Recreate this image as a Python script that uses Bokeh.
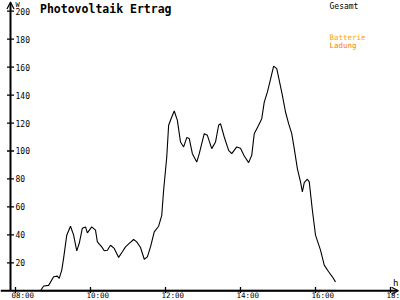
from math import pi
from bokeh.plotting import figure
from bokeh.models import Range1d, Arrow, OpenHead
from bokeh.core.properties import value
from bokeh.embed import file_html
from bokeh.resources import INLINE

# ---- data ----
times = ["08:40", "08:45", "08:53", "09:01", "09:07", "09:10", "09:14", "09:17", "09:22", "09:28",
         "09:33", "09:38", "09:42", "09:47", "09:52", "09:55", "10:02", "10:08", "10:11", "10:18",
         "10:22", "10:27", "10:32", "10:38", "10:45", "10:51", "10:56", "11:02", "11:09", "11:14",
         "11:20", "11:26", "11:31", "11:36", "11:42", "11:49", "11:54", "11:57", "12:02", "12:05",
         "12:10", "12:14", "12:19", "12:24", "12:29", "12:34", "12:38", "12:43", "12:50", "12:54",
         "13:02", "13:07", "13:14", "13:20", "13:25", "13:28", "13:34", "13:41", "13:46", "13:54",
         "14:00", "14:06", "14:13", "14:18", "14:22", "14:29", "14:34", "14:38", "14:43", "14:48",
         "14:53", "14:58", "15:02", "15:07", "15:12", "15:17", "15:22", "15:26", "15:31", "15:36",
         "15:39", "15:42", "15:47", "15:50", "15:55", "16:00", "16:08", "16:14", "16:21", "16:27",
         "16:32"]
gesamt = [0, 3.4, 3.9, 10, 10.5, 8.9, 14.8, 23.4, 39.8, 46.2,
          39.8, 28.6, 34, 44.8, 45.7, 41.4, 45.7, 43.4, 35, 31.4,
          28.6, 29, 32.6, 30.3, 23.9, 27.9, 31.4, 33.9, 36.7, 35,
          31, 22.6, 24.3, 31.4, 42.1, 46.2, 54, 71.9, 95.7, 118.4,
          124.3, 128.6, 121.9, 106.4, 102.9, 109.6, 108.9, 98.1, 92.1, 98.1,
          112.4, 111.2, 101.7, 106.4, 118.4, 119.6, 110, 100.5, 98.1, 102.9,
          101.9, 96.4, 91.7, 96.9, 112.4, 118.4, 123.1, 135, 142.1, 151.2,
          160.7, 158.9, 150.5, 139.8, 127.9, 119.6, 112.4, 101.7, 87.4, 77.9,
          70.7, 77.4, 79.8, 77.9, 57.6, 39.8, 29.1, 18.4, 13.6, 10,
          6.4]
ladung_times = ["08:40", "16:32"]
ladung = [0, 0]
y_ticks = [20, 40, 60, 80, 100, 120, 140, 160, 180, 200]
x_ticks = [8, 10, 12, 14, 16, 18]
x_tick_labels = ["08:00", "10:00", "12:00", "14:00", "16:00", "18:00"]


def hrs(t):
    hh, mm = t.split(":")
    return int(hh) + int(mm) / 60


X0, X1 = 7.6, 18.2667
Y0, Y1 = -6.93, 207.64
AXX = 7.8667  # y-axis position (07:52)
FONT = value("DejaVu Sans Mono")

p = figure(width=400, height=300, x_range=Range1d(X0, X1), y_range=Range1d(Y0, Y1),
           output_backend="svg", toolbar_location=None, min_border=0,
           x_axis_type=None, y_axis_type=None, outline_line_color=None,
           background_fill_color="white", border_fill_color="white")
p.xgrid.visible = False
p.ygrid.visible = False

# axes
p.add_layout(Arrow(end=OpenHead(size=7, line_width=1.2, line_color="black"),
                   x_start=X0, y_start=0, x_end=18.2133, y_end=0,
                   line_width=2, line_color="black"))
p.add_layout(Arrow(end=OpenHead(size=7, line_width=1.2, line_color="black"),
                   x_start=AXX, y_start=0, x_end=AXX, y_end=206.5,
                   line_width=2, line_color="black"))

# series
p.line([hrs(t) for t in ladung_times], ladung, line_color="#FF8000", line_width=2)
p.line([hrs(t) for t in times], gesamt, line_color="black", line_width=1.1)

# ticks
p.scatter(x=[AXX] * len(y_ticks), y=y_ticks, marker="dash", size=7,
          line_color="black", line_width=1.3)
p.scatter(x=x_ticks, y=[0.5] * len(x_ticks), marker="dash", angle=pi / 2, size=6,
          line_color="black", line_width=1.3)

# tick labels
p.text(x=[AXX] * len(y_ticks), y=y_ticks, text=[str(v) for v in y_ticks],
       x_offset=5, text_baseline="middle", text_align="left",
       text_font=FONT, text_font_size="8px", text_color="black")
p.text(x=x_ticks, y=[-6.6] * len(x_ticks), text=x_tick_labels,
       x_offset=-4, text_baseline="bottom", text_align="left",
       text_font=FONT, text_font_size="7.5px", text_color="black")

# unit labels
p.text(x=[AXX], y=[204.5], text=["W"], x_offset=5, text_baseline="alphabetic",
       text_font=FONT, text_font_size="7px", text_color="black")
p.text(x=[18.0667], y=[5.5], text=["h"], text_baseline="alphabetic",
       text_font=FONT, text_font_size="9px", text_color="black")

# title and legend texts
p.text(x=[8.6533], y=[201.3], text=["Photovoltaik Ertrag"], text_baseline="alphabetic",
       text_font=FONT, text_font_size="11.5px", text_font_style="bold", text_color="black")
p.text(x=[16.3733], y=[203.5], text=["Gesamt"], text_baseline="alphabetic",
       text_font=FONT, text_font_size="8px", text_color="black")
p.text(x=[16.3733], y=[181.3], text=["Batterie"], text_baseline="alphabetic",
       text_font=FONT, text_font_size="7.5px", text_color="#FFA500")
p.text(x=[16.3733], y=[175.6], text=["Ladung"], text_baseline="alphabetic",
       text_font=FONT, text_font_size="7.5px", text_color="#FF8000")

open("out.html", "w").write(file_html(p, INLINE))
